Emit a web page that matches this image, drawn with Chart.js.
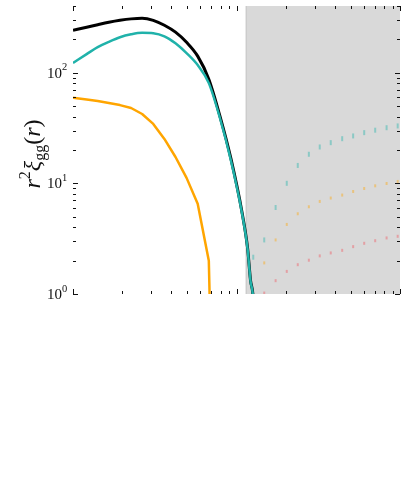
<!DOCTYPE html>
<html>
<head>
<meta charset="utf-8">
<script src="https://cdn.jsdelivr.net/npm/chart.js@4.4.0/dist/chart.umd.min.js"></script>
<style>
  html, body { margin: 0; padding: 0; background: #fff; }
  #wrap { width: 415px; height: 498px; position: relative; }
</style>
</head>
<body>
<div id="wrap"><canvas id="chart"></canvas></div>
<script>
// r values (log grid) for the three model curves
const rModel = [1.0, 1.212, 1.416, 1.656, 1.937, 2.266, 2.647, 3.096, 3.622, 4.236,
                4.949, 5.789, 6.771, 7.920, 9.253, 10.82, 11.68, 12.19, 12.72, 13.64];
const totalVals   = [241.5, 257, 271, 285, 297, 306, 310, 297, 268, 232,
                     188, 141, 87.3, 40.5, 16.6, 5.42, 2.62, 1.32, 0.79, 0.01];
const centralVals = [122.5, 147, 170, 190, 209, 222, 229, 227, 213, 184,
                     150, 117, 80.4, 38.9, 16.0, 5.31, 2.57, 1.30, 0.78, 0.01];
const satVals     = [59.3, 57.1, 55.4, 53.1, 50.9, 47.9, 42.3, 34.4, 25.2, 17.3,
                     11.2, 6.53, 2.00, 0.0001];

// faint measured points inside the shaded range
const rObs = [12.66, 14.78, 17.35, 20.3, 23.7, 27.7, 32.3, 37.7, 44.3, 51.7, 60.4, 70.5, 82.8, 96.8];
const obsTeal   = [2.15, 3.08, 6.05, 10.0, 14.5, 18.3, 21.3, 23.3, 25.3, 26.8, 28.7, 30.2, 31.8, 33.0];
const obsOrange = [null, 1.91, 3.08, 4.25, 5.31, 6.14, 6.86, 7.36, 7.83, 8.44, 8.98, 9.49, 9.96, 10.4];
const obsPink   = [null, 1.02, 1.32, 1.60, 1.84, 2.02, 2.21, 2.35, 2.48, 2.68, 2.87, 3.03, 3.21, 3.32];

const shadeRange = [11.36, 100];
const xRange = [1, 100];
const yRange = [1, 400];
const yMajor = [1, 10, 100];
const yTickLabels = [['10', '0'], ['10', '1'], ['10', '2']];

function pts(xs, ys) {
  return ys.map((v, i) => ({ x: xs[i], y: v })).filter(p => p.y !== null);
}

const SERIF = '"Liberation Serif", "DejaVu Serif", serif';

const framePlugin = {
  id: 'frame',
  beforeDatasetsDraw(chart) {
    const { ctx, chartArea: a, scales: { x } } = chart;
    const x0 = x.getPixelForValue(shadeRange[0]);
    const x1 = x.getPixelForValue(shadeRange[1]);
    ctx.save();
    ctx.fillStyle = '#d9d9d9';
    ctx.fillRect(x0, a.top, x1 - x0, a.bottom - a.top);
    ctx.fillStyle = 'rgba(0,0,0,0.06)';
    ctx.fillRect(x0, a.top, 1.5, a.bottom - a.top);
    ctx.restore();
  },
  afterDraw(chart) {
    const { ctx, chartArea: a, scales: { x, y } } = chart;
    ctx.save();
    ctx.strokeStyle = '#111';
    ctx.lineWidth = 1;
    ctx.beginPath();
    // x ticks, top and bottom, pointing inward
    for (let d = xRange[0]; d <= xRange[1]; d *= 10) {
      for (let k = 1; k < 10; k++) {
        const v = d * k;
        if (v > xRange[1]) break;
        const px = Math.round(x.getPixelForValue(v)) + 0.5;
        const len = k === 1 ? 5 : 3;
        ctx.moveTo(px, a.top); ctx.lineTo(px, a.top + len);
        ctx.moveTo(px, a.bottom); ctx.lineTo(px, a.bottom - len);
      }
    }
    // y ticks, left and right
    for (let d = 1; d <= yRange[1]; d *= 10) {
      for (let k = 1; k < 10; k++) {
        const v = d * k;
        if (v > yRange[1]) break;
        const py = Math.round(y.getPixelForValue(v)) + 0.5;
        const len = k === 1 ? 5 : 3;
        ctx.moveTo(a.left, py); ctx.lineTo(a.left + len, py);
        ctx.moveTo(a.right, py); ctx.lineTo(a.right - len, py);
      }
    }
    ctx.stroke();

    // y tick labels 10^n
    ctx.fillStyle = '#111';
    yMajor.forEach((v, i) => {
      const py = y.getPixelForValue(v);
      ctx.font = '15px ' + SERIF;
      ctx.textAlign = 'right';
      ctx.textBaseline = 'middle';
      ctx.fillText(yTickLabels[i][0], a.left - 11, py + 1);
      ctx.font = '10.5px ' + SERIF;
      ctx.textAlign = 'left';
      ctx.fillText(yTickLabels[i][1], a.left - 11, py - 5);
    });

    // y axis title r^2 xi_gg(r), rotated
    const parts = [
      { t: 'r', size: 24, style: 'italic', dy: 0 },
      { t: '2', size: 16, style: '', dy: -10 },
      { t: 'ξ', size: 24, style: 'italic', dy: 0 },
      { t: 'gg', size: 16, style: '', dy: 5 },
      { t: '(', size: 24, style: '', dy: 0 },
      { t: 'r', size: 24, style: 'italic', dy: 0 },
      { t: ')', size: 24, style: '', dy: 0 }
    ];
    let total = 0;
    parts.forEach(p => {
      ctx.font = `${p.style} ${p.size}px ${SERIF}`;
      p.w = ctx.measureText(p.t).width;
      total += p.w;
    });
    ctx.translate(40, 154);
    ctx.rotate(-Math.PI / 2);
    ctx.textAlign = 'left';
    ctx.textBaseline = 'alphabetic';
    let cx = -total / 2;
    parts.forEach(p => {
      ctx.font = `${p.style} ${p.size}px ${SERIF}`;
      ctx.fillText(p.t, cx, p.dy);
      cx += p.w;
    });
    ctx.restore();
  }
};

new Chart(document.getElementById('chart'), {
  type: 'line',
  data: {
    datasets: [
      { data: pts(rModel, centralVals), borderColor: '#20b2aa', borderWidth: 2.5, pointRadius: 0,
        cubicInterpolationMode: 'monotone', order: 0 },
      { data: pts(rModel, totalVals), borderColor: '#000000', borderWidth: 3, pointRadius: 0,
        cubicInterpolationMode: 'monotone', order: 1 },
      { data: pts(rModel, satVals), borderColor: '#ffa500', borderWidth: 2.5, pointRadius: 0, order: 2 },
      { data: pts(rObs, obsTeal), showLine: false, pointStyle: 'line', rotation: 90, pointRadius: 2.5,
        pointBorderWidth: 2, pointBorderColor: 'rgba(32,178,170,0.42)', order: 3 },
      { data: pts(rObs, obsOrange), showLine: false, pointStyle: 'line', rotation: 90, pointRadius: 1.5,
        pointBorderWidth: 2, pointBorderColor: 'rgba(255,165,0,0.42)', order: 4 },
      { data: pts(rObs, obsPink), showLine: false, pointStyle: 'line', rotation: 90, pointRadius: 1.5,
        pointBorderWidth: 2, pointBorderColor: 'rgba(240,80,90,0.42)', order: 5 }
    ]
  },
  options: {
    responsive: true,
    maintainAspectRatio: false,
    animation: false,
    layout: { padding: { left: 73, right: 15, top: 5, bottom: 204 } },
    plugins: { legend: { display: false }, tooltip: { enabled: false } },
    elements: { line: { tension: 0, borderJoinStyle: 'round' } },
    scales: {
      x: { type: 'logarithmic', min: xRange[0], max: xRange[1], display: false },
      y: { type: 'logarithmic', min: yRange[0], max: yRange[1], display: false }
    }
  },
  plugins: [framePlugin]
});
</script>
</body>
</html>
